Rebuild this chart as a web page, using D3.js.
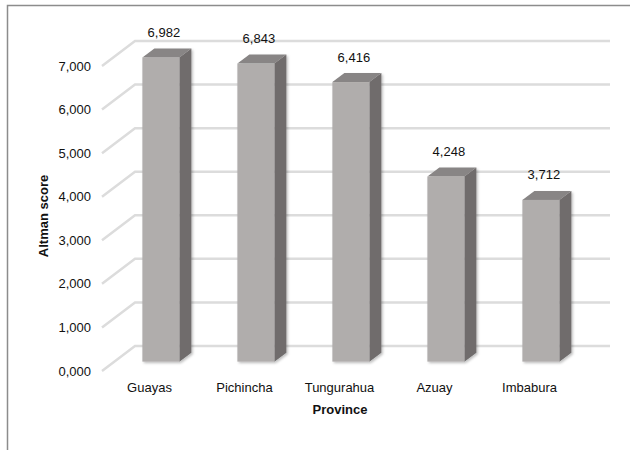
<!DOCTYPE html>
<html>
<head>
<meta charset="utf-8">
<script src="https://cdn.jsdelivr.net/npm/d3@7"></script>
<style>
  html, body { margin: 0; padding: 0; background: #fff; }
  svg { display: block; font-family: "Liberation Sans", Arial, sans-serif; }
</style>
</head>
<body>
<svg id="chart" width="630" height="450"></svg>
<script>
// Altman score by province
const provinces = ["Guayas", "Pichincha", "Tungurahua", "Azuay", "Imbabura"];
const scores = [6.982, 6.843, 6.416, 4.248, 3.712];
const tickValues = [0, 1, 2, 3, 4, 5, 6, 7];
const yTitle = "Altman score";
const xTitle = "Province";

const locale = d3.formatLocale({ decimal: ",", thousands: ".", grouping: [3], currency: ["", ""] });
const fmt = locale.format(".3f");

const svg = d3.select("#chart");

// frame
svg.append("path")
  .attr("d", "M7.5,450 L7.5,5.5 L630,5.5")
  .attr("fill", "none").attr("stroke", "#8c8c8c").attr("stroke-width", 1.5);

// 3D projection: front plane, full depth offset
const depthX = 33, depthY = -25;
const x = d3.scaleBand().domain(provinces).range([102, 577]).paddingInner(0).paddingOuter(0);
const y = d3.scaleLinear().domain([0, 7]).range([371, 66]);

// soft edges for the gridlines and a light shadow for the bars
const defs = svg.append("defs");
const blur = defs.append("filter").attr("id", "soft").attr("x", "-5%").attr("y", "-50%").attr("width", "110%").attr("height", "200%");
blur.append("feGaussianBlur").attr("stdDeviation", 0.6);
const shadow = defs.append("filter").attr("id", "shadow").attr("x", "-20%").attr("y", "-10%").attr("width", "150%").attr("height", "130%");
shadow.append("feDropShadow").attr("dx", 1.5).attr("dy", 1.5).attr("stdDeviation", 1.2).attr("flood-color", "#000").attr("flood-opacity", 0.25);

// gridlines: diagonal on the side wall, then along the back wall
const grid = svg.append("g").attr("filter", "url(#soft)");
grid.selectAll("path").data(tickValues).join("path")
  .attr("d", v => {
    const fy = y(v);
    return `M${x.range()[0]},${fy} L${x.range()[0] + depthX},${fy + depthY} L${x.range()[1] + depthX},${fy + depthY}`;
  })
  .attr("fill", "none").attr("stroke", "#dcdcdc").attr("stroke-width", 2.5);

// tick labels
svg.append("g").selectAll("text").data(tickValues).join("text")
  .attr("x", 91).attr("y", v => y(v)).attr("dy", "0.35em")
  .attr("text-anchor", "end").attr("font-size", 13).attr("fill", "#111")
  .text(v => fmt(v));

// bars: front face at 0.375 depth, back at 0.75 depth
const f0 = 0.375, f1 = 0.75;
const barW = 37;
const bars = svg.append("g").selectAll("g").data(provinces).join("g").attr("filter", "url(#shadow)");
function barGeom(d, i) {
  const fx = x(d) + depthX * f0 + (x.bandwidth() - barW) / 2 - 1;
  const bx = fx + depthX * (f1 - f0) * 0.97;
  const dy = depthY * (f1 - f0) * 0.96;
  const yb = y(0) + depthY * f0;
  const yt = y(scores[i]) + depthY * f0;
  return { fx, bx, dy, yb, yt };
}
// side face
bars.append("path")
  .attr("d", (d, i) => {
    const g = barGeom(d, i);
    return `M${g.fx + barW},${g.yt} L${g.bx + barW},${g.yt + g.dy} L${g.bx + barW},${g.yb + g.dy} L${g.fx + barW},${g.yb} Z`;
  })
  .attr("fill", "#6f6c6c");
// top face
bars.append("path")
  .attr("d", (d, i) => {
    const g = barGeom(d, i);
    return `M${g.fx},${g.yt} L${g.bx},${g.yt + g.dy} L${g.bx + barW},${g.yt + g.dy} L${g.fx + barW},${g.yt} Z`;
  })
  .attr("fill", "#888585");
// front face
bars.append("rect")
  .attr("x", (d, i) => barGeom(d, i).fx)
  .attr("y", (d, i) => barGeom(d, i).yt)
  .attr("width", barW)
  .attr("height", (d, i) => { const g = barGeom(d, i); return g.yb - g.yt; })
  .attr("fill", "#b0adac");

// value labels
svg.append("g").selectAll("text").data(provinces).join("text")
  .attr("x", (d, i) => barGeom(d, i).fx + barW / 2 + 3)
  .attr("y", (d, i) => barGeom(d, i).yt - 25)
  .attr("dy", "0.35em")
  .attr("text-anchor", "middle").attr("font-size", 13).attr("fill", "#111")
  .text((d, i) => fmt(scores[i]));

// category labels
svg.append("g").selectAll("text").data(provinces).join("text")
  .attr("x", d => x(d) + x.bandwidth() / 2)
  .attr("y", 387).attr("dy", "0.35em")
  .attr("text-anchor", "middle").attr("font-size", 13).attr("fill", "#111")
  .text(d => d);

// axis titles
svg.append("text")
  .attr("x", 340).attr("y", 409).attr("dy", "0.35em")
  .attr("text-anchor", "middle").attr("font-size", 13).attr("font-weight", "bold").attr("fill", "#111")
  .text(xTitle);
svg.append("text")
  .attr("transform", "translate(43,216) rotate(-90)")
  .attr("dy", "0.35em")
  .attr("text-anchor", "middle").attr("font-size", 13).attr("font-weight", "bold").attr("fill", "#111")
  .text(yTitle);
</script>
</body>
</html>
